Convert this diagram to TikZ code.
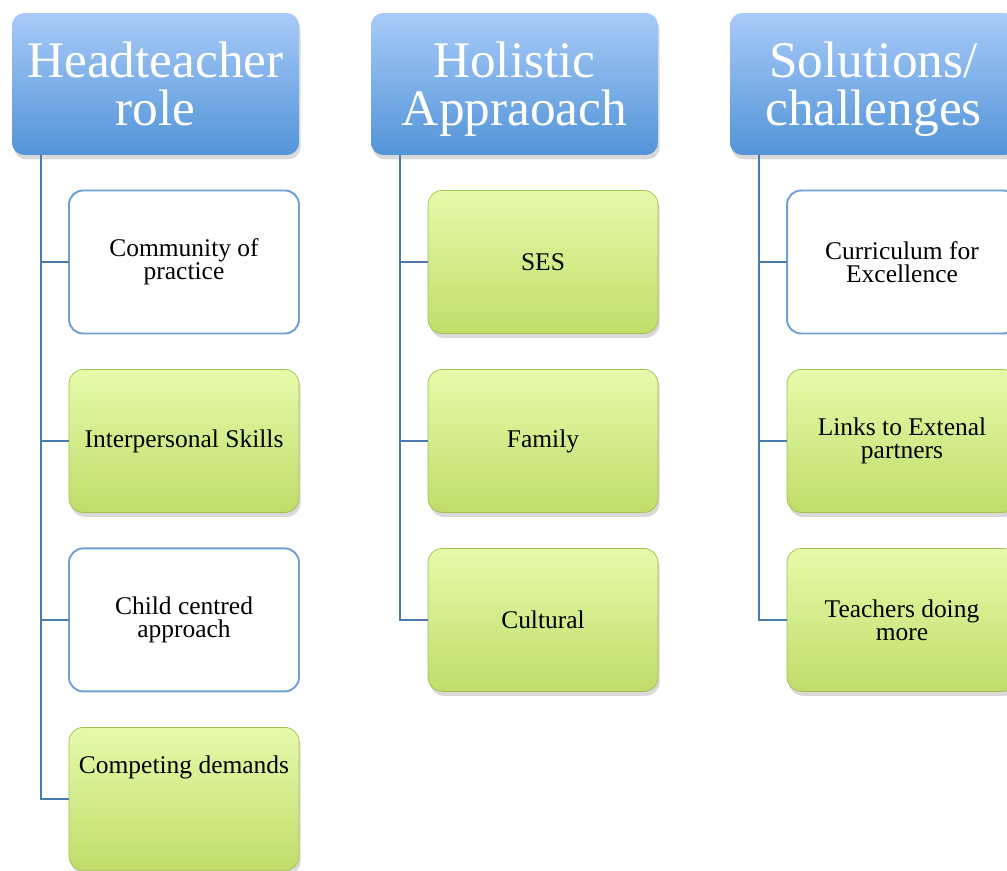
\documentclass[tikz,border=0pt]{standalone}
\usepackage{fontspec}
\setmainfont{Liberation Serif}
\usetikzlibrary{positioning,shadows}

\definecolor{headtop}{RGB}{168,203,248}
\definecolor{headbot}{RGB}{82,148,216}
\definecolor{leaftop}{RGB}{230,250,170}
\definecolor{leafbot}{RGB}{192,221,106}
\definecolor{leafrim}{RGB}{160,192,80}
\definecolor{linkcol}{RGB}{74,122,176}
\definecolor{rimblue}{RGB}{110,159,213}

\begin{document}
\begin{tikzpicture}[x=0.02cm,y=-0.02cm,
  head/.style={rounded corners=7pt,
    minimum width=5.74cm, minimum height=2.84cm,
    inner sep=0pt, outer sep=0pt, align=center, text depth=0pt,
    top color=headtop, bottom color=headbot, draw=none,
    text=white, font=\fontsize{29.2}{27.2}\selectfont,
    drop shadow={shadow xshift=1pt, shadow yshift=-2.5pt, opacity=.3}},
  leaf/.style={rounded corners=8pt,
    minimum width=4.6cm, minimum height=2.86cm,
    inner sep=0pt, outer sep=0pt, align=center,
    font=\fontsize{14.5}{13}\selectfont},
  leafw/.style={leaf, draw=rimblue, line width=1.1pt, fill=white},
  leafg/.style={leaf, draw=leafrim, line width=.4pt,
    top color=leaftop, bottom color=leafbot,
    drop shadow={shadow xshift=1pt, shadow yshift=-2.5pt, opacity=.3}},
  link/.style={draw=linkcol, line width=1.1pt},
  node distance=0.72cm]

 \useasboundingbox (0,0) rectangle (1007,871);

 % column heads
 \node[head] (h1) at (155.5,84) {Headteacher\\role};
 \node[head] (h2) at (514.5,84) {Holistic\\Appraoach};
 \node[head] (h3) at (873.5,84) {Solutions/\\challenges};

 % first column
 \node[leafw] (c11) at (184,262) {Community of\\practice};
 \node[leafg, below=of c11] (c12) {Interpersonal Skills};
 \node[leafw, below=of c12] (c13) {Child centred\\approach};
 \node[leafg, below=of c13] (c14) {Competing demands\\~\\~\\~};

 % second column
 \node[leafg] (c21) at (543,262) {SES};
 \node[leafg, below=of c21] (c22) {Family};
 \node[leafg, below=of c22] (c23) {Cultural};

 % third column
 \node[leafw] (c31) at (902,262) {Curriculum for\\Excellence};
 \node[leafg, below=of c31] (c32) {Links to Extenal\\partners};
 \node[leafg, below=of c32] (c33) {Teachers doing\\more};

 % tree lines
 \foreach \h/\c in {h1/c11,h1/c12,h1/c13,h1/c14,
                    h2/c21,h2/c22,h2/c23,
                    h3/c31,h3/c32,h3/c33}
   \draw[link] ([xshift=0.58cm]\h.south west) |- (\c.west);

\end{tikzpicture}
\end{document}
